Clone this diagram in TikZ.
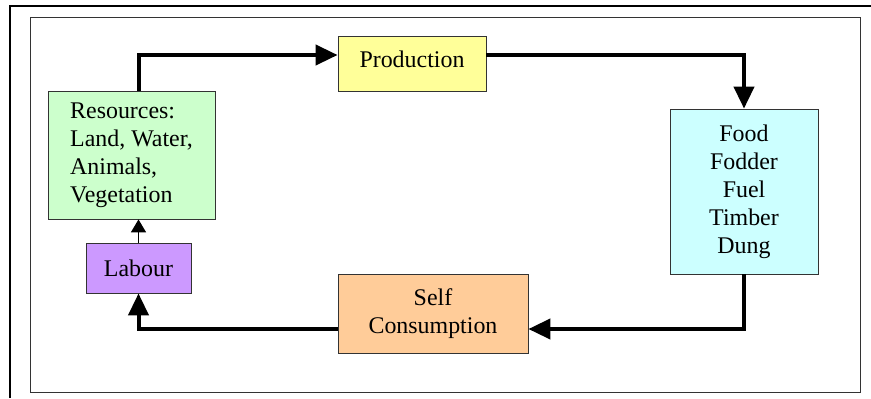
\documentclass[tikz,border=0pt]{standalone}
\usepackage{fontspec}
\setmainfont{Liberation Serif}
\usetikzlibrary{arrows.meta}
\definecolor{resgreen}{HTML}{CCFFCC}
\definecolor{prodyellow}{HTML}{FFFF99}
\definecolor{foodcyan}{HTML}{CCFFFF}
\definecolor{selforange}{HTML}{FFCC99}
\definecolor{labpurple}{HTML}{CC99FF}
\begin{document}
\begin{tikzpicture}[x=1bp,y=-1bp,
    box/.style={draw=black!80,line width=0.8bp,inner sep=0pt,align=center,
        font=\rmfamily\fontsize{24}{28}\selectfont},
    flow/.style={line width=4bp,-{Triangle[length=22bp,width=20bp]}},
    thinflow/.style={line width=1.5bp,-{Triangle[length=13bp,width=15bp]}}]
    \useasboundingbox (0,0) rectangle (871,398);
    % frames
    \draw[line width=1.5bp] (10,398) -- (10,6) -- (871,6);
    \draw[line width=1bp,draw=black!80] (30,17) rectangle (860,392);
    % boxes
    \node[box,fill=resgreen,minimum width=167bp,minimum height=128bp,align=left] (res) at (131.5,155) {Resources:\\Land, Water,\\Animals,\\Vegetation};
    \node[box,fill=prodyellow,minimum width=148bp,minimum height=55bp,text depth=8bp] (prod) at (412,63.5) {Production};
    \node[box,fill=foodcyan,minimum width=148bp,minimum height=165bp] (food) at (744,191.5) {Food\\Fodder\\Fuel\\Timber\\Dung};
    \node[box,fill=selforange,minimum width=190bp,minimum height=79bp] (self) at (433,313.5) {Self\\Consumption};
    \node[box,fill=labpurple,minimum width=105bp,minimum height=50bp] (lab) at (138.5,268) {Labour};
    % connectors
    \draw[flow] (res.north -| lab.north) |- ([yshift=8.5bp]prod.west);
    \draw[flow] ([yshift=8.5bp]prod.east) -| (food.north);
    \draw[flow] (food.south) |- ([yshift=-15.5bp]self.east);
    \draw[flow] ([yshift=-15.5bp]self.west) -| (lab.south);
    \draw[thinflow] (lab.north) -- (lab.north |- res.south);
\end{tikzpicture}
\end{document}
